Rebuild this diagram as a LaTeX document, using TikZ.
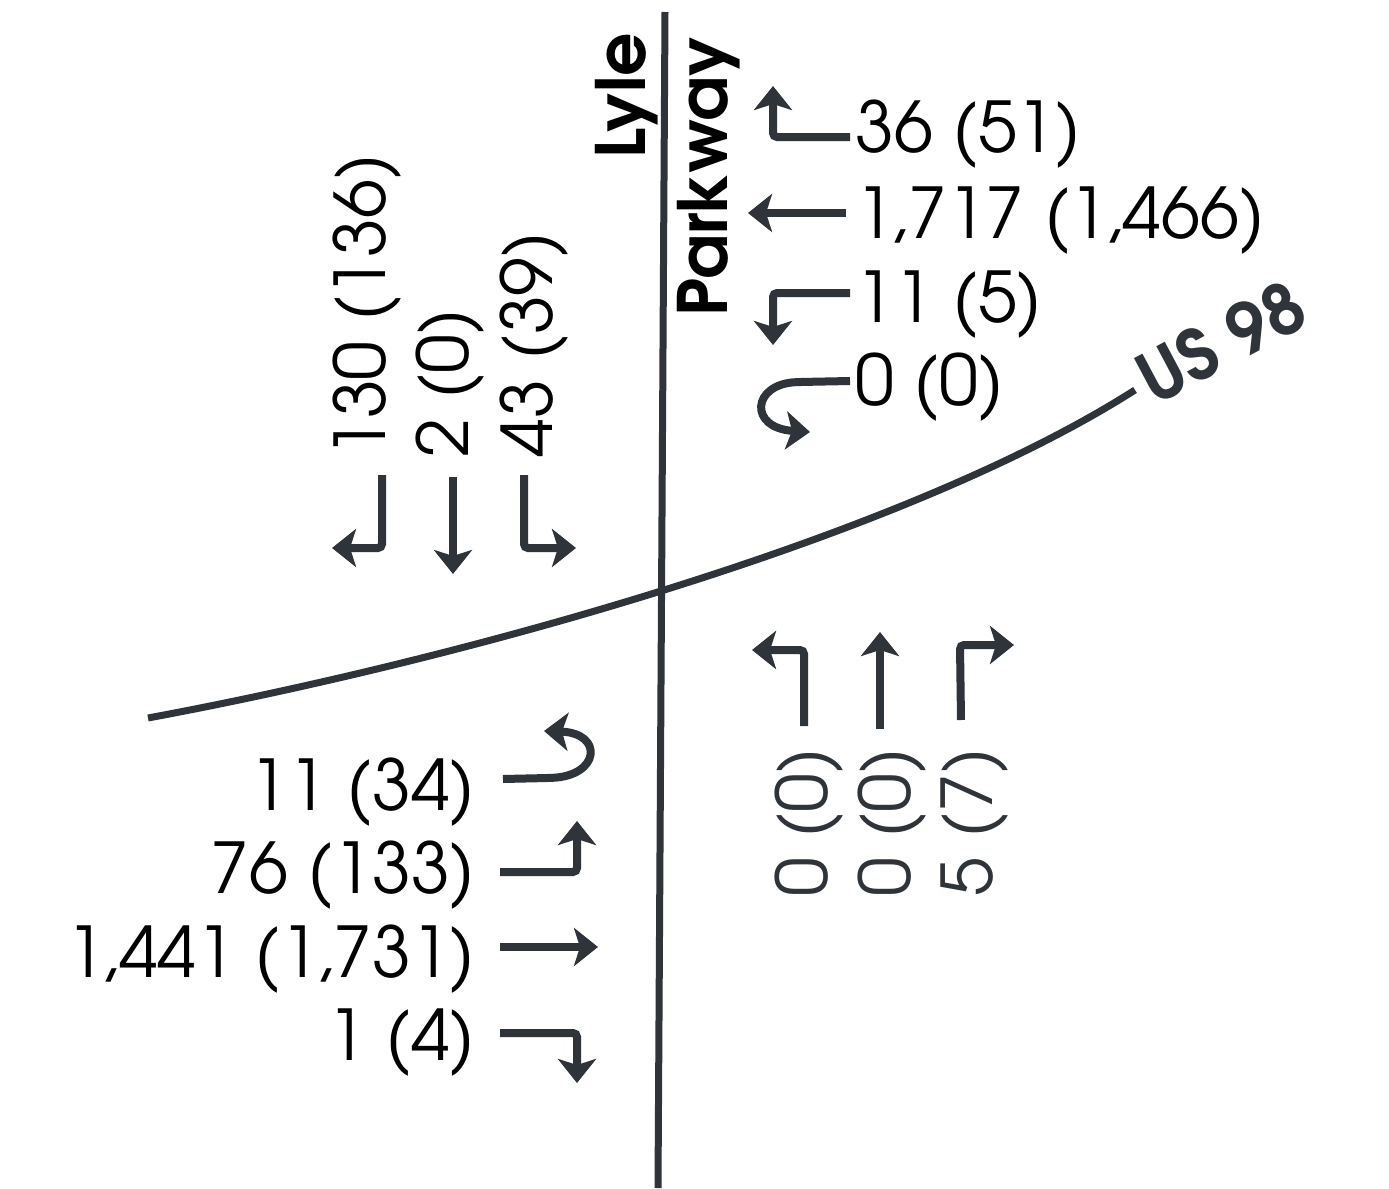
\documentclass[tikz,border=0pt]{standalone}
\usepackage{fontspec}
\setmainfont{TeX Gyre Adventor}
\usetikzlibrary{arrows.meta}
\definecolor{roadc}{HTML}{2E343A}
\begin{document}
\begin{tikzpicture}[x=0.5pt,y=-0.5pt,
  road/.style={draw=roadc,line width=3.5pt},
  mv/.style={draw=roadc,line width=4pt,rounded corners=2pt,-{Stealth[length=12pt,width=19pt,inset=3pt]}},
  vol/.style={inner sep=0pt,font=\fontsize{35}{40}\selectfont,text=black},
  volg/.style={vol,text=roadc},
  rname/.style={inner sep=0pt,font=\fontsize{34}{40}\selectfont\bfseries}]
\useasboundingbox (0,0) rectangle (1389,1189);
\fill[white] (0,0) rectangle (1389,1189);
% roads
\coordinate (lpN) at (665,12);
\coordinate (lpS) at (658,1188);
\coordinate (usW) at (148,718);
\coordinate (usE) at (1135,390);
\draw[road] (lpN) -- (lpS);
\draw[road] (usW) .. controls (450,662) and (900,540) .. (usE);
\node[rname, rotate=90, anchor=base west] (lyle) at (645,159) {Lyle};
\node[rname, rotate=90, anchor=base west] (pkwy) at (727,317) {Parkway};
\node[rname, font=\fontsize{35}{40}\selectfont\bfseries, text=roadc, rotate=28] (us98) at (1221,342) {US 98};
% westbound
\node[vol, anchor=base west] (wbl) at (855,152) {36 (51)};
\node[vol, anchor=base west] (wbt) at (855,238) {1,717 (1,466)};
\node[vol, anchor=base west] (wbr) at (855,322) {11 (5)};
\node[vol, anchor=base west] (wbu) at (855,405) {0 (0)};
\draw[mv] (850,137) -- (773,137) -- (773,86);
\draw[mv] (846,213) -- (748,213);
\draw[mv] (850,293) -- (773,293) -- (773,345);
\draw[mv] (850,381) -- (800,382) .. controls (752,384) and (748,428) .. (810,432);
% southbound
\node[vol, rotate=90, anchor=base west] (sbr) at (385,458) {130 (136)};
\node[vol, rotate=90, anchor=base west] (sbt) at (468,458) {2 (0)};
\node[vol, rotate=90, anchor=base west] (sbl) at (552,458) {43 (39)};
\draw[mv] (382,475) -- (382,548) -- (332,548);
\draw[mv] (453,477) -- (453,574);
\draw[mv] (524,475) -- (524,548) -- (576,548);
% eastbound
\node[vol, anchor=base east] (ebu) at (476,810) {11 (34)};
\node[vol, anchor=base east] (ebl) at (476,893) {76 (133)};
\node[vol, anchor=base east] (ebt) at (476,977) {1,441 (1,731)};
\node[vol, anchor=base east] (ebr) at (476,1060) {1 (4)};
\draw[mv] (503,779) -- (548,778) .. controls (600,776) and (604,733) .. (544,731);
\draw[mv] (500,872) -- (577,872) -- (577,821);
\draw[mv] (500,947) -- (598,947);
\draw[mv] (500,1033) -- (577,1033) -- (577,1083);
% northbound
\node[volg, rotate=90, anchor=base west] (nbl) at (827,897) {0 (0)};
\node[volg, rotate=90, anchor=base west] (nbt) at (910,897) {0 (0)};
\node[volg, rotate=90, anchor=base west] (nbr) at (992,897) {5 (7)};
\draw[mv] (804,726) -- (804,650) -- (752,650);
\draw[mv] (880,729) -- (880,632);
\draw[mv] (961,720) -- (960,645) -- (1014,645);
\end{tikzpicture}
\end{document}
